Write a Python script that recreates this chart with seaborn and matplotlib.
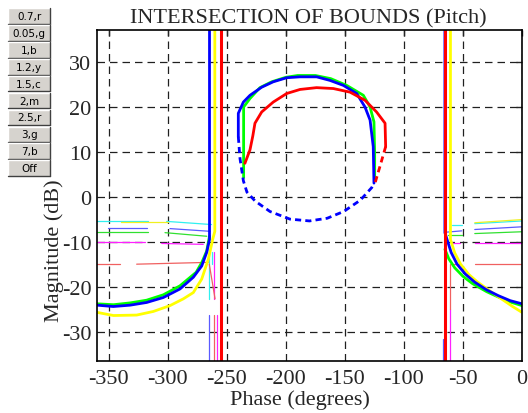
import pandas as pd
import matplotlib
matplotlib.use("Agg")
import matplotlib.pyplot as plt
import seaborn as sns
from matplotlib.patches import Rectangle
from matplotlib.lines import Line2D

# ---- closed bound in the middle (phase in degrees, magnitude in dB)
blue_top_ph = [-240.3, -240.3, -236, -230.4, -220.5, -210.7, -199.3, -188, -174, -162.6, -151.3, -140, -133, -128.7, -126, -125.4]
blue_top_db = [13.3, 18.5, 21, 22.5, 24.3, 25.5, 26.4, 26.6, 26.6, 25.8, 24.7, 22.9, 19.9, 17, 11.1, 3.0]
blue_bot_ph = [-240.3, -238.9, -236, -233, -226, -213.5, -196.5, -180, -165, -151, -137, -127.3, -125.4]
blue_bot_db = [13.3, 8.5, 3.5, 1.0, -1.0, -3.3, -5.0, -5.4, -4.8, -3.3, -0.8, 2.0, 3.0]
green_mid_ph = [-235.8, -235.8, -230.4, -222, -212, -200, -190, -175, -162, -148.5, -134.4, -128.7, -125.4, -124.8, -124.8]
green_mid_db = [4.2, 19.9, 21.8, 24.2, 25.5, 26.5, 26.9, 26.9, 26.2, 24.7, 22.5, 19.9, 16.6, 9.6, 3.8]
red_mid_ph = [-234.7, -230.4, -228, -226.2, -220.5, -210.7, -199.3, -188, -174, -159.8, -145.7, -133, -123.2, -116, -115.5]
red_mid_db = [7.4, 10.4, 13.5, 16.3, 18.8, 21, 22.9, 23.8, 24.2, 24, 23.2, 21.4, 18.8, 16.3, 11.1]
red_dash_ph = [-115.5, -120, -124.5]
red_dash_db = [11.1, 7.0, 3.0]

# ---- left bounds
blue_left_ph = [-360, -346.2, -332, -317.9, -303.8, -289.7, -278.4, -271.3, -267.1, -264.7, -264.7]
blue_left_db = [-24.1, -24.4, -24.1, -23.5, -22.4, -20.5, -17.9, -15.4, -12.4, -9.5, 40]
green_left_ph = [-360, -346, -332, -318, -303.8, -289.7, -276, -271, -267.1, -264.7]
green_left_db = [-23.8, -24.0, -23.6, -23.0, -21.8, -19.8, -16.8, -14.5, -12.1, -8.8]
yellow_left_ph = [-360, -346, -326.4, -312.3, -298.2, -286.9, -278.4, -271.3, -265.7, -262, -260.2, -260.2]
yellow_left_db = [-25.7, -26.4, -26.3, -25.5, -24.2, -22.7, -21.3, -18.3, -13.9, -9.5, -7.7, 40]
red_left_ph = [-255.2, -255.2]
red_left_db = [-40, 40]

# ---- right bounds
blue_right_ph = [-65.3, -65.3, -63.5, -60, -55, -48, -40, -30, -20, -10, 0]
blue_right_db = [40, -8.0, -9.5, -12.4, -15.0, -17.2, -19.0, -20.7, -22.0, -23.1, -23.8]
green_right_ph = [-65.3, -62, -57, -50, -42, -30, -20, -10, 0]
green_right_db = [-11.7, -13.8, -15.8, -17.7, -19.3, -21.1, -22.3, -23.4, -24.2]
yellow_right_ph = [-60.6, -60.6, -57, -52, -45, -38, -28, -18, -8, 0]
yellow_right_db = [40, -9.5, -12.5, -15.0, -17.3, -18.9, -20.8, -22.6, -24.4, -25.7]
red_right_ph = [-65.6, -65.6]
red_right_db = [-40, 40]

# ---- thin bound pieces: (phase start, phase end, dB start, dB end)
thin_cyan = [(-360, -317, -5.4, -5.4), (-301, -263, -5.5, -6.2), (-59.6, -51, -6.2, -6.2),
             (-40, 0, -6.0, -5.4), (-264.9, -264.9, -12.4, -22.7), (-262.9, -262.9, -12.4, -15)]
thin_yellow = [(-340, -300, -5.6, -5.6), (-40, 0, -5.8, -5.1)]
thin_blue = [(-350.4, -317.9, -6.9, -6.9), (-298.2, -264.3, -7.1, -7.7), (-64.4, -51, -7.9, -7.6),
             (-40, 0, -7.3, -6.7), (-264.9, -264.9, -26.3, -40), (-66.6, -66.6, -31.6, -40)]
thin_green = [(-360, -316.5, -7.9, -7.9), (-302.4, -267, -8.0, -8.8), (-62.4, -51, -8.6, -8.6),
              (-40, 0, -8.2, -7.8)]
thin_magenta = [(-360, -319.3, -10.1, -10.1), (-305.2, -270, -10.4, -10.6), (-59.6, -52.5, -10.4, -10.4),
                (-40, 0, -10.2, -10.2), (-260.6, -260.6, -12.4, -22.7), (-258.3, -258.3, -26.3, -40),
                (-61, -61, -25, -40)]
thin_salmon = [(-360, -340.5, -15, -15), (-326.4, -265.7, -15, -14.6), (-264.9, -260, -15, -22.7),
               (-59.6, -52.5, -15, -15), (-40, 0, -15, -15), (-260.6, -260.6, -26.3, -40),
               (-61, -61, -15, -25)]

button_labels = ["0.7,r", "0.05,g", "1,b", "1.2,y", "1.5,c", "2,m", "2.5,r", "3,g", "7,b", "Off"]

x_ticks = list(range(-350, 1, 50))
y_ticks = list(range(-30, 31, 10))

W, H = 528, 414
plt.rcParams['axes.unicode_minus'] = False
sns.set_style("white")
plt.rcParams['font.family'] = ['Liberation Serif', 'DejaVu Serif']

fig = plt.figure(figsize=(W / 100, H / 100), dpi=100)
ax = fig.add_axes([97 / W, 1 - 362 / H, 425 / W, 331 / H])


def curve(ph, db, color, lw=2.0, ls='-'):
    sns.lineplot(x=ph, y=db, sort=False, estimator=None, color=color, linewidth=lw,
                 linestyle=ls, ax=ax, legend=False)


def pieces(segs, color):
    rows = []
    for k, (p0, p1, d0, d1) in enumerate(segs):
        rows.append((p0, d0, k))
        rows.append((p1, d1, k))
    df = pd.DataFrame(rows, columns=["ph", "db", "seg"])
    sns.lineplot(data=df, x="ph", y="db", units="seg", estimator=None, sort=False,
                 color=color, linewidth=0.9, ax=ax, legend=False)


pieces(thin_cyan, "#30f0f0")
pieces(thin_yellow, "#f0f020")
pieces(thin_blue, "#5a5aff")
pieces(thin_green, "#30e030")
pieces(thin_magenta, "#ff20ff")
pieces(thin_salmon, "#f06060")

curve(green_left_ph, green_left_db, "#00ff00")
curve(green_right_ph, green_right_db, "#00ff00")
curve(green_mid_ph, green_mid_db, "#00ff00")
curve(yellow_left_ph, yellow_left_db, "#ffff00")
curve(yellow_right_ph, yellow_right_db, "#ffff00")
curve(blue_left_ph, blue_left_db, "#0000ff")
curve(blue_right_ph, blue_right_db, "#0000ff")
curve(blue_top_ph, blue_top_db, "#0000ff")
curve(blue_bot_ph, blue_bot_db, "#0000ff", ls=(0, (2.2, 1.5)))
curve(red_mid_ph, red_mid_db, "#ff0000")
curve(red_dash_ph, red_dash_db, "#ff0000", ls=(0, (2.2, 1.5)))
curve(red_left_ph, red_left_db, "#ff0000", lw=2.2)
curve(red_right_ph, red_right_db, "#ff0000", lw=2.2)

ax.set_xlim(-360, 0)
ax.set_ylim(-36.5, 37)
ax.set_xticks(x_ticks)
ax.set_yticks(y_ticks)
ax.set_xlabel("")
ax.set_ylabel("")
ax.grid(True, color="#202020", linestyle=(0, (6, 4)), linewidth=0.9)
ax.set_axisbelow(True)
ax.tick_params(direction="in", length=4, width=1, top=True, right=True, labelsize=16, pad=4)
ax.tick_params(axis="x", pad=6)
for s in ax.spines.values():
    s.set_color("black")
    s.set_linewidth(1.2)

fig.text(308 / W, 1 - 23 / H, "INTERSECTION OF BOUNDS (Pitch)", fontsize=16, ha="center", va="baseline")
fig.text(300 / W, 1 - 405 / H, "Phase (degrees)", fontsize=16, ha="center", va="baseline")
fig.text(54 / W, 1 - 251 / H, "Magnitude (dB)", fontsize=16, ha="center", va="center", rotation=90)

# button panel
bx, bw = 8, 42
for i, lab in enumerate(button_labels):
    cy = 17 + 16.9 * i
    top, bh = cy - 7.8, 15.6
    fig.add_artist(Rectangle((bx / W, 1 - (top + bh) / H), bw / W, bh / H, transform=fig.transFigure,
                             facecolor="#d6d3ce", edgecolor="none", zorder=5))
    fig.add_artist(Line2D([bx / W, (bx + bw) / W], [1 - top / H, 1 - top / H], transform=fig.transFigure,
                          color="white", lw=1, zorder=6))
    fig.add_artist(Line2D([bx / W, bx / W], [1 - top / H, 1 - (top + bh) / H], transform=fig.transFigure,
                          color="white", lw=1, zorder=6))
    fig.add_artist(Line2D([bx / W, (bx + bw) / W], [1 - (top + bh) / H, 1 - (top + bh) / H],
                          transform=fig.transFigure, color="#404040", lw=1, zorder=6))
    fig.add_artist(Line2D([(bx + bw) / W, (bx + bw) / W], [1 - top / H, 1 - (top + bh) / H],
                          transform=fig.transFigure, color="#404040", lw=1, zorder=6))
    fig.text((bx + bw / 2) / W, 1 - cy / H, lab, fontsize=7.5, family="DejaVu Sans", ha="center",
             va="center", color="black", zorder=7)

fig.savefig("out.png", dpi=100)
